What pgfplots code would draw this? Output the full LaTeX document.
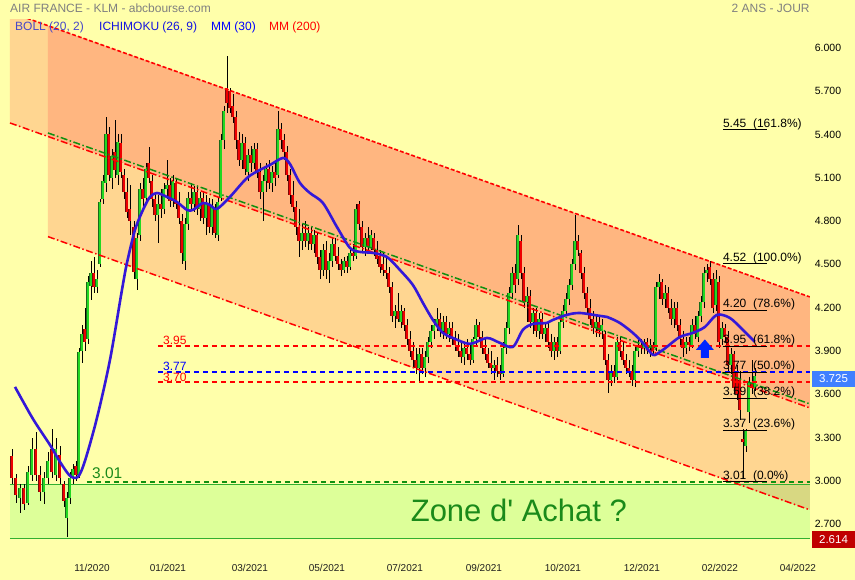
\documentclass[border=0pt]{standalone}
\usepackage{fontspec}
\setmainfont{Liberation Sans}[Ligatures=TeXOff]
\usepackage{pgfplots}
\usepackage{pgfplotstable}
\pgfplotsset{compat=1.18}
\definecolor{bg}{HTML}{FFFFAA}
\definecolor{lorange}{HTML}{FFD691}
\definecolor{dorange}{HTML}{FFB680}
\definecolor{zonegreen}{HTML}{DDFF99}
\definecolor{olive}{HTML}{D8D882}
\definecolor{zoneline}{HTML}{30B030}
\definecolor{chgreen}{HTML}{109010}
\definecolor{upgreen}{HTML}{22D822}
\definecolor{upedge}{HTML}{1A6A1A}
\definecolor{dnred}{HTML}{EE0000}
\definecolor{dnedge}{HTML}{7A0A0A}
\definecolor{mablue}{HTML}{3418D8}
\definecolor{txtgray}{HTML}{808080}
\definecolor{bollc}{HTML}{4848C8}
\definecolor{ichic}{HTML}{1414E0}
\definecolor{tagblue}{HTML}{4080FF}
\definecolor{tagred}{HTML}{C00000}
\definecolor{zonetxt}{HTML}{1A8A1A}

\pgfplotstableread{
x o h l c
12 3.17 3.22 2.98 3.02
16 3.02 3.05 2.85 2.90
20 2.88 2.98 2.78 2.95
24 2.95 2.98 2.80 2.84
28 2.85 3.10 2.83 3.06
32 3.04 3.30 3.00 3.22
36 3.22 3.34 3.00 3.04
40 3.04 3.10 2.86 2.92
44 2.92 3.06 2.84 3.02
48 3.02 3.20 2.98 3.14
52 3.22 3.36 3.02 3.06
56 3.04 3.30 3.00 3.22
60 3.18 3.24 2.98 3.02
64 2.98 3.00 2.82 2.86
67 2.74 2.92 2.614 2.88
70 2.88 3.06 2.84 3.02
73 3.02 3.12 2.98 3.08
76 3.10 3.14 3.00 3.04
79 3.04 3.92 3.02 3.89
82 3.90 4.08 3.82 4.02
85 4.05 4.20 3.90 3.96
88 3.98 4.42 3.95 4.38
91 4.35 4.52 4.25 4.44
94 4.44 4.55 4.30 4.34
97 4.34 4.46 4.30 4.40
100 4.50 4.95 4.48 4.93
103 4.95 5.12 4.92 5.08
106 5.06 5.52 5.00 5.40
109 5.40 5.45 5.08 5.12
112 5.10 5.30 5.02 5.25
115 5.28 5.50 5.10 5.15
118 5.12 5.40 5.05 5.35
121 5.34 5.40 5.10 5.14
124 5.12 5.16 4.95 5.00
127 5.00 5.10 4.82 4.86
130 4.88 5.05 4.70 4.80
134 4.76 4.80 4.40 4.45
137 4.40 4.72 4.32 4.68
140 4.70 5.06 4.66 5.02
143 5.02 5.10 4.88 4.95
146 4.96 5.20 4.92 5.16
149 5.20 5.31 5.06 5.10
152 5.08 5.12 4.90 4.95
155 4.95 5.00 4.80 4.84
158 4.84 4.98 4.65 4.92
161 4.92 5.02 4.82 4.88
164 4.88 5.06 4.85 5.02
167 5.02 5.22 4.95 5.05
170 5.05 5.10 4.90 4.94
173 4.94 5.12 4.90 5.08
176 5.06 5.10 4.88 4.92
179 4.92 5.00 4.78 4.82
182 4.80 4.85 4.50 4.58
185 4.52 4.82 4.46 4.78
188 4.78 5.00 4.74 4.96
191 4.96 5.06 4.88 4.92
194 4.92 5.04 4.86 5.00
197 5.00 5.04 4.84 4.88
200 4.88 5.00 4.80 4.96
203 4.96 5.00 4.78 4.82
206 4.82 4.98 4.70 4.92
209 4.92 4.96 4.72 4.76
212 4.76 4.95 4.70 4.90
215 4.88 4.92 4.68 4.72
218 4.70 4.96 4.66 4.93
221 4.96 5.40 4.94 5.36
224 5.36 5.60 5.30 5.56
227 5.72 5.94 5.55 5.62
230 5.70 5.72 5.55 5.58
233 5.60 5.68 5.48 5.52
236 5.52 5.56 5.30 5.36
239 5.36 5.42 5.18 5.22
242 5.22 5.40 5.16 5.34
245 5.34 5.38 5.12 5.16
248 5.14 5.30 5.08 5.26
251 5.26 5.32 5.14 5.20
254 5.20 5.34 5.16 5.30
257 5.30 5.34 5.10 5.14
260 5.14 5.20 4.95 5.00
263 5.00 5.12 4.80 5.08
266 5.08 5.20 5.00 5.16
269 5.16 5.22 5.02 5.06
272 5.06 5.18 5.00 5.14
275 5.14 5.20 5.04 5.10
278 5.12 5.56 5.10 5.44
281 5.44 5.48 5.30 5.36
284 5.36 5.40 5.22 5.28
287 5.28 5.32 5.08 5.12
290 5.12 5.16 4.92 4.98
293 4.98 5.08 4.86 4.90
296 4.90 4.94 4.70 4.76
299 4.76 4.88 4.55 4.66
302 4.66 4.78 4.60 4.72
305 4.72 4.80 4.62 4.66
308 4.66 4.76 4.60 4.72
311 4.72 4.76 4.60 4.64
314 4.64 4.74 4.58 4.70
317 4.70 4.72 4.50 4.55
320 4.55 4.60 4.40 4.46
323 4.46 4.64 4.42 4.60
326 4.60 4.66 4.40 4.46
329 4.46 4.58 4.37 4.52
332 4.52 4.68 4.48 4.64
335 4.64 4.68 4.52 4.56
338 4.56 4.62 4.46 4.50
341 4.50 4.54 4.42 4.46
344 4.46 4.55 4.44 4.52
347 4.52 4.56 4.44 4.48
350 4.48 4.62 4.46 4.58
353 4.58 4.64 4.52 4.56
356 4.56 4.92 4.54 4.88
359 4.92 4.94 4.74 4.78
362 4.76 4.80 4.58 4.62
365 4.62 4.72 4.56 4.68
368 4.68 4.76 4.58 4.62
371 4.62 4.74 4.60 4.70
374 4.68 4.72 4.56 4.60
377 4.60 4.66 4.50 4.54
380 4.56 4.60 4.44 4.48
383 4.50 4.58 4.42 4.46
386 4.46 4.56 4.40 4.44
389 4.44 4.48 4.30 4.34
392 4.34 4.38 4.10 4.14
395 4.14 4.22 4.06 4.18
398 4.18 4.30 4.10 4.12
401 4.10 4.22 4.06 4.18
404 4.18 4.20 4.04 4.08
407 4.08 4.12 3.94 3.98
410 3.98 4.04 3.86 3.90
413 3.90 3.96 3.78 3.84
416 3.84 3.92 3.74 3.78
419 3.78 3.92 3.68 3.88
422 3.88 3.92 3.74 3.78
425 3.78 3.90 3.72 3.86
428 3.86 4.00 3.82 3.96
431 3.96 4.08 3.92 4.04
434 4.04 4.12 3.98 4.08
437 4.08 4.20 4.04 4.12
440 4.12 4.16 4.00 4.04
443 4.04 4.14 3.98 4.10
446 4.10 4.14 3.98 4.02
449 4.02 4.10 3.96 4.06
452 4.06 4.10 3.94 3.98
455 3.98 4.04 3.90 3.94
458 3.94 4.02 3.86 3.90
461 3.90 3.96 3.82 3.86
464 3.86 3.96 3.80 3.92
467 3.92 3.98 3.84 3.88
470 3.88 3.94 3.80 3.84
473 3.84 4.00 3.82 3.98
476 3.98 4.12 3.94 4.08
479 4.08 4.10 3.98 4.00
482 4.00 4.04 3.88 3.92
485 3.92 3.98 3.84 3.88
488 3.88 3.92 3.78 3.82
491 3.82 3.90 3.74 3.78
494 3.78 3.84 3.70 3.80
497 3.80 3.86 3.72 3.76
500 3.76 3.80 3.70 3.74
503 3.74 3.96 3.72 3.92
506 3.92 4.10 3.88 4.06
509 4.06 4.34 4.02 4.30
512 4.30 4.48 4.26 4.44
515 4.44 4.50 4.30 4.36
518 4.40 4.77 4.36 4.70
521 4.66 4.70 4.40 4.44
524 4.44 4.48 4.20 4.24
527 4.24 4.34 4.10 4.28
530 4.28 4.32 4.06 4.10
533 4.10 4.20 4.02 4.16
536 4.16 4.20 4.00 4.04
539 4.04 4.16 3.98 4.12
542 4.12 4.16 3.98 4.02
545 4.02 4.10 3.96 4.06
548 4.06 4.10 3.92 3.96
551 3.96 4.02 3.86 3.90
554 3.90 4.00 3.84 3.96
557 3.96 4.00 3.86 3.90
560 3.90 4.14 3.88 4.10
563 4.10 4.22 4.06 4.18
566 4.18 4.30 4.14 4.26
569 4.26 4.40 4.22 4.36
572 4.36 4.54 4.32 4.50
575 4.50 4.84 4.46 4.66
578 4.66 4.70 4.56 4.60
581 4.58 4.60 4.40 4.44
584 4.44 4.48 4.26 4.30
587 4.30 4.34 4.16 4.20
590 4.20 4.26 4.08 4.12
593 4.12 4.18 4.02 4.06
596 4.06 4.14 4.00 4.10
599 4.10 4.14 4.00 4.04
602 4.04 4.12 3.98 4.08
605 4.02 4.04 3.80 3.84
608 3.84 3.88 3.61 3.70
611 3.70 3.80 3.66 3.76
614 3.76 3.80 3.68 3.72
617 3.72 4.00 3.70 3.96
620 3.96 4.00 3.86 3.90
623 3.90 3.96 3.80 3.84
626 3.84 3.88 3.74 3.78
629 3.78 3.84 3.72 3.76
632 3.76 3.80 3.66 3.70
635 3.70 3.94 3.65 3.90
638 3.90 3.98 3.86 3.94
641 3.94 3.98 3.88 3.92
644 3.92 3.98 3.88 3.96
647 3.96 3.99 3.88 3.92
650 3.92 3.98 3.86 3.94
653 3.94 3.96 3.88 3.90
656 3.92 4.38 3.90 4.34
659 4.34 4.43 4.26 4.38
662 4.38 4.40 4.22 4.26
665 4.26 4.36 4.20 4.30
668 4.30 4.34 4.16 4.20
671 4.20 4.26 4.08 4.12
674 4.12 4.24 4.06 4.20
677 4.20 4.24 4.04 4.08
680 4.08 4.12 3.94 3.98
683 3.98 4.04 3.86 3.92
686 3.92 4.00 3.88 3.96
689 3.96 4.00 3.90 3.94
692 3.94 4.12 3.92 4.08
695 4.08 4.14 3.98 4.02
698 4.00 4.18 3.96 4.14
701 4.14 4.28 4.10 4.24
704 4.24 4.48 4.20 4.44
707 4.44 4.50 4.38 4.46
710 4.48 4.52 4.36 4.40
713 4.40 4.44 4.16 4.20
716 4.22 4.46 4.18 4.40
719 4.38 4.42 3.92 3.96
722 3.98 4.10 3.94 4.06
725 4.06 4.09 3.96 4.00
728 4.00 4.04 3.76 3.80
731 3.80 3.92 3.74 3.88
734 3.88 3.90 3.60 3.64
737 3.76 3.80 3.56 3.60
740 3.70 3.76 3.42 3.49
743 3.29 3.36 3.01 3.27
746 3.24 3.36 3.20 3.35
749 3.48 3.72 3.40 3.68
752 3.68 3.84 3.60 3.64
755 3.64 3.78 3.62 3.725
}\candles

\pgfplotsset{
  candlebody/.style 2 args={draw=none, mark=none, forget plot,
    error bars/y dir=both, error bars/y explicit, error bars/error mark=none,
    error bars/error bar style={draw=#1, solid, line width=#2}},
}

\begin{document}
\begin{tikzpicture}
\fill[bg] (0pt,-28pt) rectangle (855pt,552pt);
\begin{axis}[
  anchor=south west,
  width=810pt, height=532pt, scale only axis,
  xmin=0, xmax=810, ymin=2.5083, ymax=6.1925,
  clip mode=individual,
  axis line style={draw=none},
  major tick length=0pt, tick style={draw=none},
  /pgf/number format/assume math mode=true,
  xtick={92,168,250,327,405,484,563,642,720,798},
  xticklabels={11/2020,01/2021,03/2021,05/2021,07/2021,09/2021,10/2021,12/2021,02/2022,04/2022},
  xticklabel style={font=\fontsize{10}{12}\selectfont, text=black!88, yshift=-9pt},
  ytick={2.7,3.0,3.3,3.6,3.9,4.2,4.5,4.8,5.1,5.4,5.7,6.0},
  yticklabel pos=right,
  yticklabel style={font=\fontsize{10.5}{12}\selectfont, anchor=west, xshift=1.5pt, /pgf/number format/.cd, fixed, fixed zerofill, precision=3},
]
% channel fills
\addplot[fill=lorange, draw=none, forget plot] coordinates {(10,6.2465) (48,6.1528) (48,5.3854) (10,5.4792)} -- cycle;
\addplot[fill=dorange, draw=none, forget plot] coordinates {(48,6.1528) (810,4.2742) (810,3.5055) (48,5.3854)} -- cycle;
\addplot[fill=lorange, draw=none, forget plot] coordinates {(48,5.3854) (810,3.5055) (810,2.7992) (48,4.692)} -- cycle;
% buy zone
\addplot[fill=zonegreen, draw=none, forget plot] coordinates {(10,2.598) (810,2.598) (810,2.972) (10,2.972)} -- cycle;
\addplot[fill=olive, draw=none, forget plot] coordinates {(738.5,2.972) (810,2.972) (810,2.7992)} -- cycle;
\addplot[zoneline, line width=0.9pt, forget plot] coordinates {(10,2.972) (810,2.972)};
\addplot[zoneline, line width=0.9pt, forget plot] coordinates {(10,2.598) (810,2.598)};
% candles: wicks
\addplot[candlebody={black}{0.6pt}]
  table[x=x, y expr={(\thisrow{h}+\thisrow{l})/2}, y error expr={(\thisrow{h}-\thisrow{l})/2}] {\candles};
% up bodies (edge, then fill)
\addplot[candlebody={upedge}{3.0pt}, restrict expr to domain={\thisrow{c}-\thisrow{o}}{0:10}]
  table[x=x, y expr={(\thisrow{o}+\thisrow{c})/2}, y error expr={(\thisrow{c}-\thisrow{o})/2}] {\candles};
\addplot[candlebody={upgreen}{1.9pt}, restrict expr to domain={\thisrow{c}-\thisrow{o}}{0:10}]
  table[x=x, y expr={(\thisrow{o}+\thisrow{c})/2}, y error expr={(\thisrow{c}-\thisrow{o})/2}] {\candles};
% down bodies
\addplot[candlebody={dnedge}{3.0pt}, restrict expr to domain={\thisrow{o}-\thisrow{c}}{0.000001:10}]
  table[x=x, y expr={(\thisrow{o}+\thisrow{c})/2}, y error expr={(\thisrow{o}-\thisrow{c})/2}] {\candles};
\addplot[candlebody={dnred}{1.9pt}, restrict expr to domain={\thisrow{o}-\thisrow{c}}{0.000001:10}]
  table[x=x, y expr={(\thisrow{o}+\thisrow{c})/2}, y error expr={(\thisrow{o}-\thisrow{c})/2}] {\candles};
% channel lines
\addplot[red, line width=1.6pt, dash pattern=on 4pt off 2pt, forget plot] coordinates {(10,6.2465) (810,4.2742)};
\addplot[red, line width=1.5pt, dash pattern=on 7pt off 2.5pt on 1.5pt off 2.5pt, forget plot] coordinates {(10,5.4792) (810,3.5055)};
\addplot[chgreen, line width=1.5pt, dash pattern=on 7pt off 2.5pt on 1.5pt off 2.5pt, forget plot] coordinates {(48,5.4100) (810,3.5332)};
\addplot[red, line width=1.5pt, dash pattern=on 7pt off 2.5pt on 1.5pt off 2.5pt, forget plot] coordinates {(48,4.692) (810,2.7992)};
% horizontal levels
\addplot[red, line width=1.7pt, dash pattern=on 5pt off 4pt, yshift=-2.5pt, forget plot] coordinates {(158,3.95) (810,3.95)};
\addplot[blue, line width=1.7pt, dash pattern=on 5pt off 4pt, yshift=-2.5pt, forget plot] coordinates {(158,3.77) (810,3.77)};
\addplot[red, line width=1.7pt, dash pattern=on 5pt off 4pt, yshift=-2.5pt, forget plot] coordinates {(158,3.70) (810,3.70)};
\addplot[chgreen, line width=1.7pt, dash pattern=on 5pt off 4pt, yshift=-2.5pt, forget plot] coordinates {(87,3.01) (810,3.01)};
% moving average
\addplot[mablue, line width=2.6pt, smooth, mark=none, forget plot] coordinates {
(15,3.651) (33,3.429) (50,3.249) (60,3.132) (70,3.035) (78,3.028) (85,3.139) (97,3.436)
(110,3.838) (122,4.323) (127,4.510) (135,4.738) (143,4.877) (150,4.967) (157,4.994)
(167,4.967) (177,4.932) (187,4.877) (193,4.877) (203,4.925) (210,4.911) (217,4.884)
(230,4.967) (247,5.098) (260,5.154) (270,5.188) (283,5.237) (290,5.195) (300,5.064)
(310,4.994) (323,4.925) (337,4.759) (350,4.614) (360,4.586) (373,4.579) (387,4.551)
(400,4.461) (413,4.357) (423,4.233) (433,4.115) (443,4.025) (453,3.990) (470,3.949)
(487,3.990) (500,3.956) (513,3.928) (523,4.046) (533,4.087) (547,4.094) (553,4.115)
(567,4.150) (580,4.163) (600,4.143) (607,4.136) (620,4.094) (633,4.025) (643,3.956)
(653,3.873) (660,3.893) (667,3.928) (680,3.997) (693,4.025) (705,4.066) (717,4.150)
(730,4.129) (743,4.046) (755,3.963)};
% fibonacci levels
\addplot[black, line width=0.9pt, yshift=-2.5pt, forget plot] coordinates {(723,5.45) (767,5.45)};
\addplot[black, line width=0.9pt, yshift=-2.5pt, forget plot] coordinates {(723,4.52) (767,4.52)};
\addplot[black, line width=0.9pt, yshift=-2.5pt, forget plot] coordinates {(723,4.20) (767,4.20)};
\addplot[black, line width=0.9pt, yshift=-2.5pt, forget plot] coordinates {(723,3.95) (767,3.95)};
\addplot[black, line width=0.9pt, yshift=-2.5pt, forget plot] coordinates {(723,3.77) (767,3.77)};
\addplot[black, line width=0.9pt, yshift=-2.5pt, forget plot] coordinates {(723,3.59) (767,3.59)};
\addplot[black, line width=0.9pt, yshift=-2.5pt, forget plot] coordinates {(723,3.37) (767,3.37)};
\addplot[black, line width=0.9pt, yshift=-2.5pt, forget plot] coordinates {(723,3.01) (767,3.01)};
\begin{scope}[every node/.style={anchor=base west, inner sep=0pt, font=\fontsize{12}{14}\selectfont, text=black}]
\node at (axis cs:723,5.45) {5.45\ \ (161.8\%)};
\node at (axis cs:723,4.52) {4.52\ \ (100.0\%)};
\node at (axis cs:723,4.20) {4.20\ \ (78.6\%)};
\node at (axis cs:723,3.95) {3.95\ \ (61.8\%)};
\node at (axis cs:723,3.77) {3.77\ \ (50.0\%)};
\node at (axis cs:723,3.59) {3.59\ \ (38.2\%)};
\node at (axis cs:723,3.37) {3.37\ \ (23.6\%)};
\node at (axis cs:723,3.01) {3.01\ \ (0.0\%)};
\end{scope}
% arrow
\fill[blue!85!cyan] (axis cs:701,3.852) -- (axis cs:701,3.907) -- (axis cs:696,3.907) -- (axis cs:705,3.980) -- (axis cs:714,3.907) -- (axis cs:709,3.907) -- (axis cs:709,3.852) -- cycle;
% level labels
\node[anchor=base west, inner sep=0pt, text=red, font=\fontsize{12}{14}\selectfont, yshift=-1.2pt] at (axis cs:163,3.95) {3.95};
\node[anchor=base west, inner sep=0pt, text=blue, font=\fontsize{12}{14}\selectfont, yshift=-0.5pt] at (axis cs:163,3.77) {3.77};
\node[anchor=base west, inner sep=0pt, text=red, font=\fontsize{12}{14}\selectfont, yshift=-1.5pt] at (axis cs:163,3.70) {3.70};
\node[anchor=base west, inner sep=0pt, text=zonetxt, font=\fontsize{15.5}{17}\selectfont, yshift=1pt] at (axis cs:92,3.01) {3.01};
\node[text=zonetxt, font=\fontsize{31}{34}\selectfont] at (axis cs:519,2.792) {Zone d' Achat ?};
% price tags
\node[anchor=west, fill=tagblue, text=white, inner sep=0pt, minimum width=43pt, minimum height=16pt, font=\fontsize{11.5}{12}\selectfont, yshift=-2.5pt] at (axis cs:812,3.725) {3.725};
\node[anchor=west, fill=tagred, text=white, inner sep=0pt, minimum width=43pt, minimum height=17pt, font=\fontsize{11.5}{12}\selectfont, yshift=-2.5pt] at (axis cs:812,2.614) {2.614};
\end{axis}
% title and legend
\node[anchor=west, inner sep=0pt, text=txtgray, font=\fontsize{12}{14}\selectfont] at (10pt,543.7pt) {AIR FRANCE - KLM - abcbourse.com};
\node[anchor=east, inner sep=0pt, text=txtgray, font=\fontsize{12}{14}\selectfont] at (810pt,543.7pt) {2 ANS - JOUR};
\node[anchor=west, inner sep=0pt, text=bollc, font=\fontsize{12}{14}\selectfont] at (15pt,524.3pt) {BOLL (20, 2)};
\node[anchor=west, inner sep=0pt, text=ichic, font=\fontsize{12}{14}\selectfont] at (99pt,524.3pt) {ICHIMOKU (26, 9)};
\node[anchor=west, inner sep=0pt, text=blue, font=\fontsize{12}{14}\selectfont] at (211pt,524.3pt) {MM (30)};
\node[anchor=west, inner sep=0pt, text=red, font=\fontsize{12}{14}\selectfont] at (269pt,524.3pt) {MM (200)};
\end{tikzpicture}
\end{document}
